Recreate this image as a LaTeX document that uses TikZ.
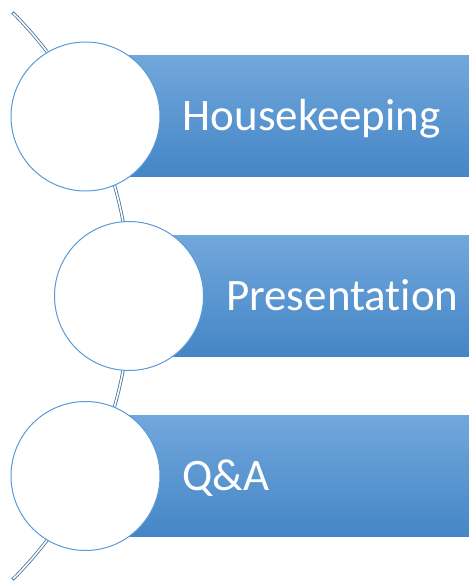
\documentclass[tikz,border=0pt]{standalone}
\usepackage{fontspec}
\setmainfont[Ligatures=NoCommon]{Carlito}
\usetikzlibrary{positioning}

\definecolor{ringblue}{RGB}{91,155,213}
\definecolor{arcblue}{RGB}{65,113,156}
\definecolor{bartop}{RGB}{114,167,220}
\definecolor{barmid}{RGB}{91,155,213}
\definecolor{barbot}{RGB}{68,134,198}

\begin{document}
\begin{tikzpicture}[x=1pt,y=1pt,node distance=22pt,
  item node/.style={circle,fill=white,draw=ringblue,line width=1pt,minimum size=149pt,inner sep=0pt},
  bar node/.style={rectangle,top color=bartop,middle color=barmid,bottom color=barbot,
    minimum height=121pt,anchor=west,inner sep=0pt},
  label node/.style={inner sep=0pt,anchor=west,text=white,text height=29pt,text depth=0pt,
    font=\fontsize{45}{54}\selectfont}]

  \useasboundingbox (0,0) rectangle (469,582);

  % the long arc behind the circles
  \coordinate (hub) at (-271,286);
  \draw[arcblue,line width=3.2pt] (hub) ++(45:401) arc[start angle=45,end angle=-45,radius=401];
  \draw[white,line width=1.6pt] (hub) ++(44.85:401) arc[start angle=44.85,end angle=-44.85,radius=401];

  \coordinate (p1) at (85.5,465.5);
  \coordinate (p2) at (129,286);
  \coordinate (p3) at (85.5,106);

  % bars
  \node[bar node,minimum width=383.5pt] (b1) at (p1) {};
  \node[bar node,minimum width=340pt] (b2) at (p2) {};
  \node[bar node,minimum width=383.5pt] (b3) at (p3) {};

  % circles
  \node[item node] (c1) at (p1) {};
  \node[item node] (c2) at (p2) {};
  \node[item node] (c3) at (p3) {};

  \node[label node] (t1) [right=of c1] {Housekeeping};
  \node[label node] (t2) [right=of c2] {Presentation};
  \node[label node] (t3) [right=of c3] {Q\&A};
\end{tikzpicture}
\end{document}
